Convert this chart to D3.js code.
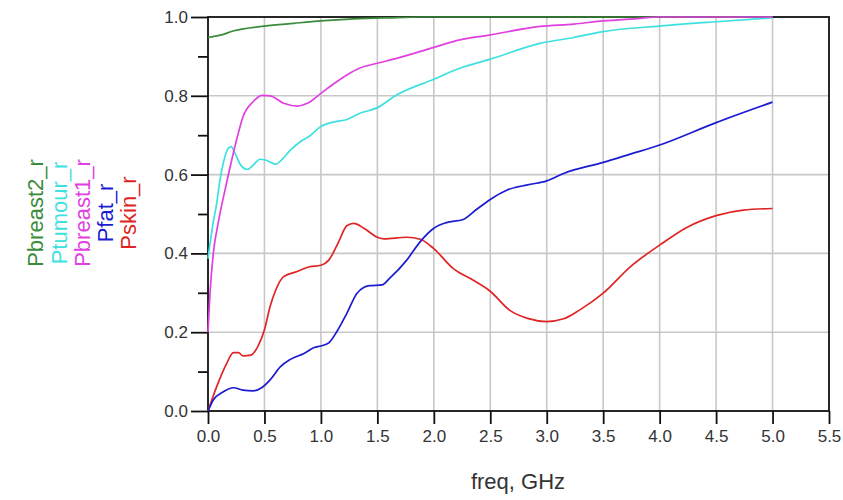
<!DOCTYPE html>
<html>
<head>
<meta charset="utf-8">
<script src="https://cdn.jsdelivr.net/npm/d3@7/dist/d3.min.js"></script>
<style>
  html, body { margin: 0; padding: 0; background: #fff; }
  svg { display: block; }
  text { font-family: "Liberation Sans", Arial, sans-serif; }
</style>
</head>
<body>
<svg id="chart" width="843" height="500"></svg>
<script>
// ---- Data ----
const xTicks = [0, 0.5, 1.0, 1.5, 2.0, 2.5, 3.0, 3.5, 4.0, 4.5, 5.0, 5.5];
const yTicks = [0, 0.2, 0.4, 0.6, 0.8, 1.0];
const yMinorTicks = [0.1, 0.3, 0.5, 0.7, 0.9];
const xTitle = "freq, GHz";

const seriesNames = ["Pbreast2_r", "Ptumour_r", "Pbreast1_r", "Pfat_r", "Pskin_r"];
const seriesColors = ["#3a8c3a", "#3fe0e0", "#e040e0", "#1c1cd0", "#e02424"];

const pbreast2 = [[0,0.948],[0.11,0.954],[0.23,0.965],[0.5,0.977],[0.76,0.984],[1.0,0.990],[1.29,0.995],[1.6,0.998],[1.9,1.0],[2.5,1.0],[3.0,1.0],[4.0,1.0],[5.0,1.0]];

const ptumour = [[0,0.387],[0.047,0.48],[0.077,0.527],[0.106,0.586],[0.136,0.630],[0.18,0.667],[0.205,0.671],[0.24,0.654],[0.29,0.624],[0.35,0.613],[0.40,0.624],[0.46,0.639],[0.51,0.637],[0.60,0.626],[0.65,0.637],[0.73,0.662],[0.82,0.684],[0.90,0.698],[1.0,0.722],[1.12,0.734],[1.23,0.740],[1.34,0.755],[1.5,0.770],[1.67,0.802],[2.0,0.842],[2.23,0.870],[2.5,0.893],[2.94,0.933],[3.24,0.948],[3.5,0.963],[4.0,0.977],[4.5,0.988],[5.0,0.998]];

const pbreast1 = [[0,0.2],[0.018,0.30],[0.047,0.40],[0.09,0.477],[0.15,0.56],[0.21,0.637],[0.26,0.696],[0.31,0.747],[0.40,0.785],[0.48,0.801],[0.55,0.800],[0.67,0.781],[0.79,0.774],[0.88,0.781],[1.0,0.806],[1.12,0.832],[1.23,0.853],[1.34,0.870],[1.49,0.882],[1.67,0.895],[2.0,0.923],[2.23,0.942],[2.49,0.954],[2.94,0.976],[3.24,0.982],[3.5,0.990],[3.8,0.996],[4.0,1.0],[4.5,1.0],[5.0,1.0]];

const pfat = [[0,0],[0.047,0.028],[0.136,0.049],[0.225,0.059],[0.31,0.053],[0.40,0.051],[0.475,0.059],[0.55,0.079],[0.64,0.112],[0.73,0.131],[0.85,0.146],[0.94,0.161],[1.0,0.165],[1.07,0.173],[1.14,0.201],[1.23,0.248],[1.32,0.299],[1.43,0.318],[1.54,0.320],[1.61,0.337],[1.76,0.383],[1.88,0.430],[2.0,0.464],[2.11,0.478],[2.26,0.486],[2.38,0.512],[2.5,0.537],[2.65,0.561],[2.83,0.574],[3.0,0.584],[3.15,0.603],[3.5,0.631],[3.74,0.652],[4.0,0.675],[4.5,0.732],[5.0,0.784]];

const pskin = [[0,0],[0.077,0.062],[0.166,0.121],[0.225,0.148],[0.27,0.148],[0.31,0.140],[0.38,0.142],[0.44,0.163],[0.5,0.206],[0.55,0.265],[0.60,0.307],[0.67,0.341],[0.79,0.354],[0.90,0.366],[1.0,0.370],[1.07,0.383],[1.15,0.425],[1.23,0.470],[1.29,0.476],[1.38,0.464],[1.5,0.441],[1.56,0.437],[1.76,0.441],[1.88,0.436],[2.0,0.412],[2.17,0.362],[2.35,0.332],[2.5,0.304],[2.67,0.256],[2.83,0.235],[3.0,0.227],[3.15,0.234],[3.29,0.256],[3.5,0.299],[3.74,0.366],[4.0,0.421],[4.24,0.466],[4.5,0.496],[4.74,0.510],[5.0,0.514]];

const seriesData = [pbreast2, ptumour, pbreast1, pfat, pskin];
// drawing order (later on top)
const drawOrder = [0, 4, 3, 1, 2];

// ---- Layout ----
const svg = d3.select("#chart");
const margin = { left: 208, right: 14, top: 17, bottom: 89 };
const W = 843, H = 500;
const x = d3.scaleLinear().domain([0, 5.5]).range([margin.left, W - margin.right]);
const y = d3.scaleLinear().domain([0, 1.0]).range([H - margin.bottom, margin.top]);

// grid
const grid = svg.append("g");
grid.selectAll("line.vx").data(xTicks.slice(1, -1)).enter().append("line")
  .attr("x1", d => x(d)).attr("x2", d => x(d))
  .attr("y1", y(0)).attr("y2", y(1))
  .attr("stroke", "#c8c8c8").attr("stroke-width", 1.6);
grid.selectAll("line.hy").data(yTicks.slice(1, -1)).enter().append("line")
  .attr("x1", x(0)).attr("x2", x(5.5))
  .attr("y1", d => y(d)).attr("y2", d => y(d))
  .attr("stroke", "#c8c8c8").attr("stroke-width", 1.6);

// frame
svg.append("rect")
  .attr("x", x(0)).attr("y", y(1))
  .attr("width", x(5.5) - x(0)).attr("height", y(0) - y(1))
  .attr("fill", "none").attr("stroke", "#111").attr("stroke-width", 1.8);

// axes
const fmt = d3.format(".1f");
const xAxis = svg.append("g").attr("transform", `translate(0,${y(0)})`)
  .call(d3.axisBottom(x).tickValues(xTicks).tickFormat(fmt).tickSize(13).tickPadding(6));
const yAxis = svg.append("g").attr("transform", `translate(${x(0)},0)`)
  .call(d3.axisLeft(y).tickValues(yTicks).tickFormat(fmt).tickSize(17).tickPadding(3));
const yMinor = svg.append("g").attr("transform", `translate(${x(0)},0)`)
  .call(d3.axisLeft(y).tickValues(yMinorTicks).tickFormat("").tickSize(10));

[xAxis, yAxis, yMinor].forEach(g => {
  g.select(".domain").remove();
  g.selectAll(".tick line").attr("stroke", "#111").attr("stroke-width", 1.8);
  g.selectAll(".tick text").attr("fill", "#333").style("font-size", "17px")
    .style("font-family", '"Liberation Sans", Arial, sans-serif');
});

// x title
svg.append("text")
  .attr("x", 518).attr("y", 489)
  .attr("text-anchor", "middle")
  .attr("fill", "#333")
  .style("font-size", "22px")
  .text(xTitle);

// lines
const line = d3.line()
  .x(d => x(d[0])).y(d => y(d[1]))
  .curve(d3.curveMonotoneX);

drawOrder.forEach(i => {
  svg.append("path")
    .datum(seriesData[i])
    .attr("d", line)
    .attr("fill", "none")
    .attr("stroke", seriesColors[i])
    .attr("stroke-width", 1.7)
    .attr("stroke-linejoin", "round");
});

// rotated legend labels
const legendX = [43, 67, 90, 113, 136];
seriesNames.forEach((name, i) => {
  svg.append("text")
    .attr("transform", `translate(${legendX[i]},213) rotate(-90)`)
    .attr("text-anchor", "middle")
    .attr("fill", seriesColors[i])
    .style("font-size", "22px")
    .text(name);
});
</script>
</body>
</html>
